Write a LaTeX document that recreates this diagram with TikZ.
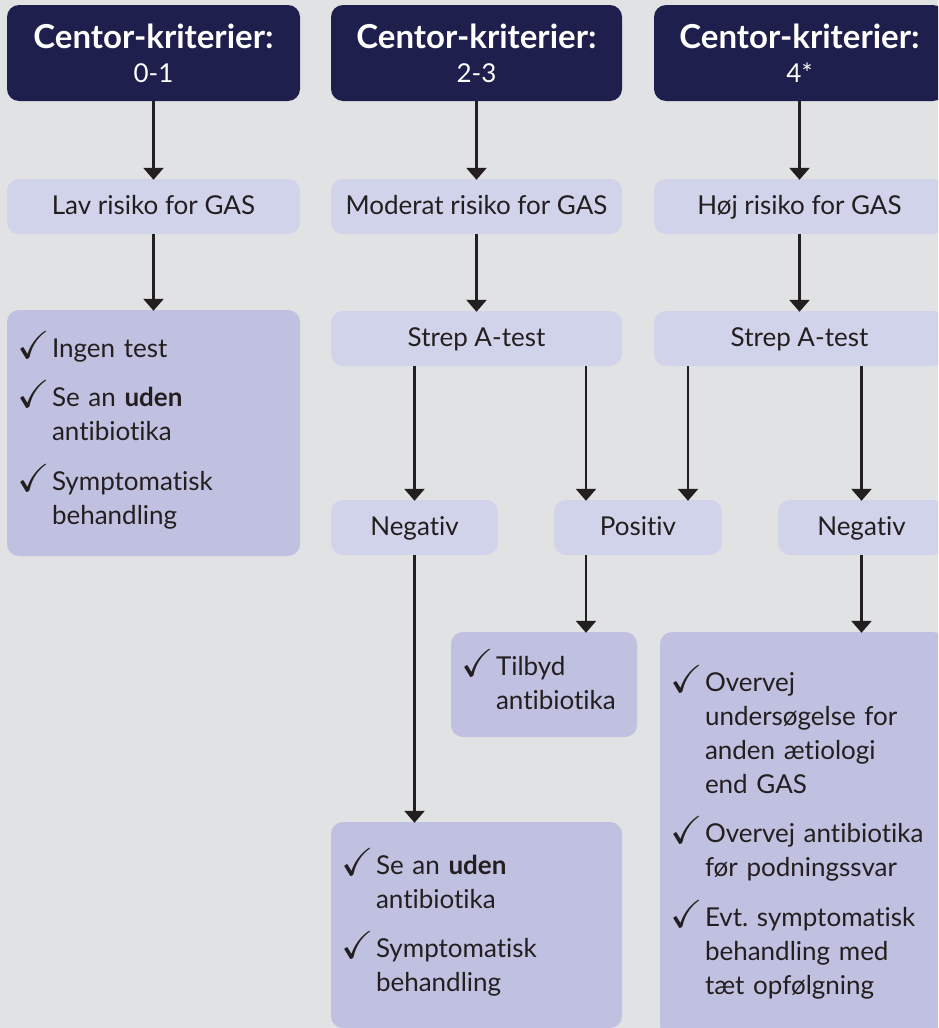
\documentclass[tikz,border=0pt]{standalone}
\usepackage{amssymb}
\usepackage{graphicx}
\usepackage{fontspec}
\setmainfont{Lato}[Ligatures=NoCommon]
\usetikzlibrary{arrows.meta}
\frenchspacing

\definecolor{bggray}{HTML}{E1E2E4}
\definecolor{navy}{HTML}{1F1F4E}
\definecolor{lilla}{HTML}{D1D3EA}
\definecolor{lillamork}{HTML}{C0C0E0}
\definecolor{blæk}{HTML}{231F20}

% punkt med flueben og hængende indrykning
\newcommand{\flue}[1]{\noindent\makebox[35pt][l]{\raisebox{-1pt}{\scalebox{1.5}{$\checkmark$}}}%
    \parbox[t]{\dimexpr\linewidth-35pt}{\strut#1\strut}\par}
\newcommand{\mellem}{\vspace{12pt}}

\tikzset{
    hoved/.style={fill=navy, text=white, rounded corners=12pt, align=center,
        minimum height=96pt, inner sep=0pt, font=\fontsize{26}{34}\selectfont},
    trin/.style={fill=lilla, text=blæk, rounded corners=12pt, minimum height=55pt,
        inner sep=0pt, text height=19pt, text depth=3pt, font=\fontsize{26}{34}\selectfont},
    udfald/.style={fill=lillamork, text=blæk, rounded corners=12pt, align=left,
        inner xsep=10pt, inner ysep=0pt, font=\fontsize{26}{34}\selectfont},
    pil/.style={line width=2.6pt, draw=blæk, -{Triangle[length=12pt,width=20pt]}, shorten >=-1pt},
}

\begin{document}
\begin{tikzpicture}[x=1pt, y=-1pt]

    \fill[bggray] (0,0) rectangle (938,1028);
    \useasboundingbox (0,0) rectangle (938,1028);
    \clip (0,0) rectangle (938,1028);

    % -- Kolonne 1: 0-1 --
    \node[hoved, minimum width=293pt] (h1) at (153.5,53)
        {{\fontsize{33}{34}\selectfont\bfseries Centor-kriterier:}\\0-1};
    \node[trin, minimum width=293pt] (lav) at (153.5,206.5) {Lav risiko for GAS};
    \node[udfald, text width=273pt, minimum height=246pt] (res1) at (153.5,433) {%
        \flue{Ingen test}\mellem
        \flue{Se an \textbf{uden}\\antibiotika}\mellem
        \flue{Symptomatisk\\behandling}};

    % -- Kolonne 2: 2-3 --
    \node[hoved, minimum width=291pt] (h2) at (476.5,53)
        {{\fontsize{33}{34}\selectfont\bfseries Centor-kriterier:}\\2-3};
    \node[trin, minimum width=291pt] (mod) at (476.5,206.5) {Moderat risiko for GAS};
    \node[trin, minimum width=291pt] (strepm) at (476.5,338.5) {Strep A-test};
    \node[trin, minimum width=167pt] (negm) at (414.5,527.5) {Negativ};
    \node[trin, minimum width=168pt] (posv) at (638,527.5) {Positiv};
    \node[udfald, text width=166pt, minimum height=105pt] (tilb) at (544,684.5) {%
        \flue{Tilbyd\\antibiotika}};
    \node[udfald, text width=271pt, minimum height=206pt] (resm) at (476.5,925) {%
        \flue{Se an \textbf{uden}\\antibiotika}\mellem
        \flue{Symptomatisk\\behandling}};

    % -- Kolonne 3: 4* --
    \node[hoved, minimum width=291pt] (h3) at (799.5,53)
        {{\fontsize{33}{34}\selectfont\bfseries Centor-kriterier:}\\4*};
    \node[trin, minimum width=291pt] (hoj) at (799.5,206.5) {Høj risiko for GAS};
    \node[trin, minimum width=291pt] (streph) at (799.5,338.5) {Strep A-test};
    \node[trin, minimum width=167pt] (negh) at (861.5,527.5) {Negativ};
    \node[udfald, text width=265pt, minimum height=406pt] (resh) at (802.5,835) {%
        \flue{Overvej\\undersøgelse for\\anden ætiologi\\end GAS}\mellem
        \flue{Overvej antibiotika\\før podningssvar}\mellem
        \flue{Evt. symptomatisk\\behandling med\\tæt opfølgning}};

    % -- Pile --
    \draw[pil] (h1) -- (lav);
    \draw[pil] (lav) -- (res1);
    \draw[pil] (h2) -- (mod);
    \draw[pil] (mod) -- (strepm);
    \draw[pil] (h3) -- (hoj);
    \draw[pil] (hoj) -- (streph);
    \draw[pil] (strepm.south -| negm.north) -- (negm.north);
    \draw[pil] ([xshift=-52pt]posv.north |- strepm.south) -- ([xshift=-52pt]posv.north);
    \draw[pil] ([xshift=50pt]posv.north |- streph.south) -- ([xshift=50pt]posv.north);
    \draw[pil] (streph.south -| negh.north) -- (negh.north);
    \draw[pil] (negm.south) -- (negm.south |- resm.north);
    \draw[pil] ([xshift=-52pt]posv.south) -- ([xshift=-52pt]posv.south |- tilb.north);
    \draw[pil] (negh.south) -- (negh.south |- resh.north);

\end{tikzpicture}
\end{document}
